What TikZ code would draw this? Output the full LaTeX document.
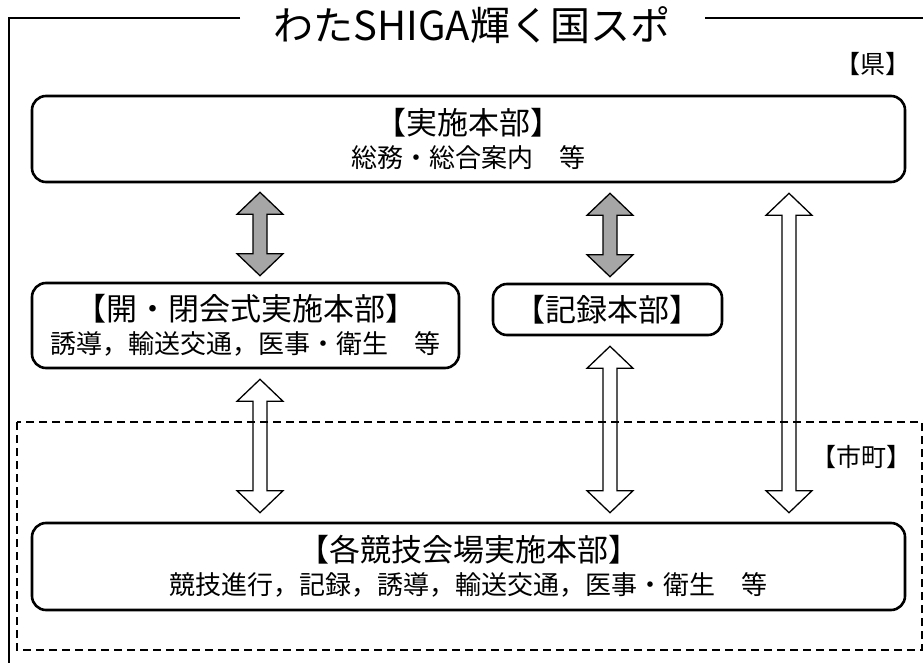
\documentclass[tikz,border=0pt]{standalone}
\usepackage{fontspec}
\setmainfont{Noto Sans CJK JP}
\usetikzlibrary{calc}
\definecolor{arrgray}{HTML}{A6A6A6}
\newcommand\myhd{\fontsize{31}{33}\selectfont}
\newcommand\mysub{\fontsize{26}{33}\selectfont}
\newcommand\dblarr[3]{%
  \draw[#1] let \p1=(#2), \p2=(#3) in
    (\x1,\y1) -- (\x1+23pt,\y1-22pt) -- (\x1+7pt,\y1-22pt) -- (\x1+7pt,\y2+22pt)
    -- (\x1+23pt,\y2+22pt) -- (\x1,\y2) -- (\x1-23pt,\y2+22pt) -- (\x1-7pt,\y2+22pt)
    -- (\x1-7pt,\y1-22pt) -- (\x1-23pt,\y1-22pt) -- cycle;}
\tikzset{
  box/.style={draw, line width=2.6pt, rounded corners=14pt, align=center, inner sep=0pt},
  grayarr/.style={draw=black, line width=1.3pt, fill=arrgray, line join=miter},
  whitearr/.style={draw=black, line width=1.3pt, fill=white, line join=miter},
  frameline/.style={line width=2.8pt},
  dashedbox/.style={dash pattern=on 8pt off 5pt, line width=1.4pt},
  tag/.style={font=\fontsize{25}{25}\selectfont, inner sep=0pt},
  titlefont/.style={font=\fontsize{40}{40}\selectfont, inner sep=0pt},
}
\begin{document}
\begin{tikzpicture}[x=1pt,y=-1pt]
\useasboundingbox (0,0) rectangle (923,663);
\clip (0,0) rectangle (923,663);
\fill[white] (0,0) rectangle (923,663);
% title and outer frame
\node[titlefont] (title) at (472,25) {わたSHIGA輝く国スポ};
\coordinate (fl) at (240,18);
\coordinate (fr) at (705,18);
\draw[frameline] (fl) -- (9,18) -- (9,680);
\draw[frameline] (fr) -- (940,18);
\node[tag, anchor=east] (ken) at (911,64) {【県】};
% boxes
\node[box, minimum width=873pt, minimum height=86pt] (b1) at (468.5,139)
  {\myhd【実施本部】\\[7pt]\mysub 総務・総合案内　等};
\node[box, minimum width=427pt, minimum height=85pt] (b2) at (245.5,325.5)
  {\myhd【開・閉会式実施本部】\\[7pt]\mysub 誘導，輸送交通，医事・衛生　等};
\node[box, minimum width=229pt, minimum height=51pt] (b3) at (607.5,309.5)
  {\myhd【記録本部】};
\node[box, minimum width=873pt, minimum height=87pt] (b4) at (468.5,566.5)
  {\myhd【各競技会場実施本部】\\[7pt]\mysub 競技進行，記録，誘導，輸送交通，医事・衛生　等};
% arrow columns
\coordinate (xa) at (260,0);
\coordinate (xb) at (610,0);
\coordinate (xc) at (789,0);
\coordinate (g1t) at ($(b1.south -| xa)+(0,9)$);
\coordinate (g1b) at ($(b2.north -| xa)+(0,-6)$);
\coordinate (g2t) at ($(b1.south -| xb)+(0,10)$);
\coordinate (g2b) at ($(b3.north -| xb)+(0,-6)$);
\coordinate (w1t) at ($(b2.south -| xa)+(0,10)$);
\coordinate (w1b) at ($(b4.north -| xa)+(0,-9)$);
\coordinate (w2t) at ($(b3.south -| xb)+(0,10)$);
\coordinate (w2b) at ($(b4.north -| xb)+(0,-9)$);
\coordinate (w3t) at ($(b1.south -| xc)+(0,10)$);
\coordinate (w3b) at ($(b4.north -| xc)+(0,-9)$);
\dblarr{grayarr}{g1t}{g1b}
\dblarr{grayarr}{g2t}{g2b}
\dblarr{whitearr}{w1t}{w1b}
\dblarr{whitearr}{w2t}{w2b}
\dblarr{whitearr}{w3t}{w3b}
% municipal area
\draw[dashedbox] (17,422) rectangle (922,650);
\node[tag, anchor=east] (shicho) at (912,457) {【市町】};
\end{tikzpicture}
\end{document}
